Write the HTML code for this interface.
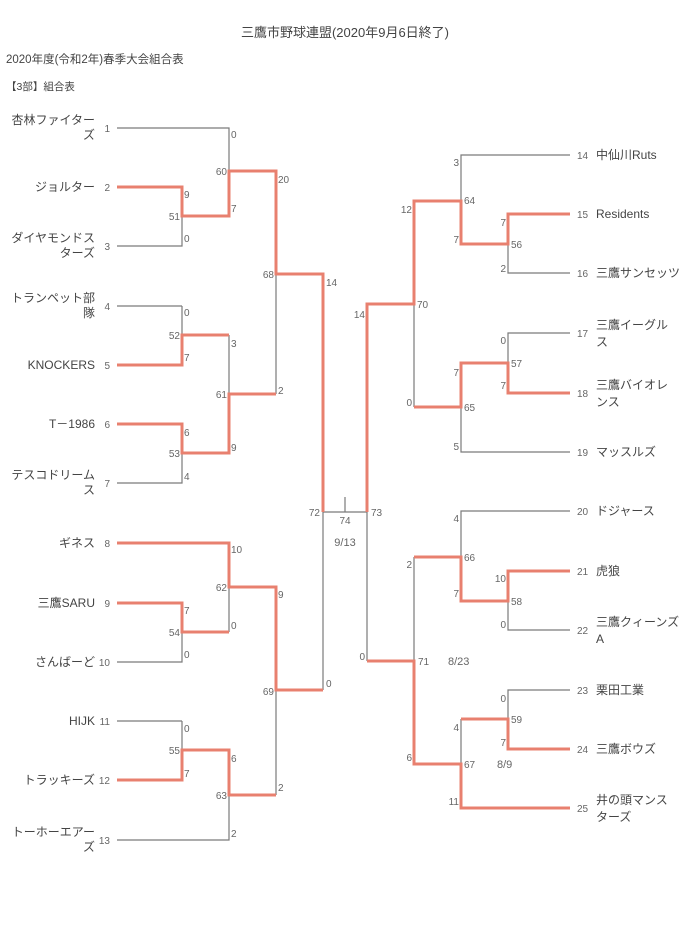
<!DOCTYPE html>
<html><head><meta charset="utf-8"><style>
html,body{margin:0;padding:0;background:#fff;}
svg{display:block;}
.t{font-family:"Liberation Sans","Noto Sans CJK JP",sans-serif;}
.n{font-size:12px;fill:#444;}
.s{font-size:10px;fill:#666;}
.g{fill:none;stroke:#7a7a7a;stroke-width:1.2;}
.r{fill:none;stroke:#e8806f;stroke-width:3;}
</style></head><body>
<svg width="685" height="948" viewBox="0 0 685 948" xmlns="http://www.w3.org/2000/svg">
<text class="t" x="345" y="37" text-anchor="middle" font-size="13" fill="#444">三鷹市野球連盟(2020年9月6日終了)</text>
<text class="t" x="6" y="63" font-size="11.5" fill="#444">2020年度(令和2年)春季大会組合表</text>
<text class="t" x="6" y="90" font-size="10.5" fill="#444">【3部】組合表</text>

<!-- grey lines left -->
<path class="g" d="M117 128H229V171 M182 216V246H117 M229 216V171 M276 274V394 M182 306H117 M182 306V335 M229 335V394 M182 454V483H117 M323 512V690 M323 512H367 M345 497V512
M229 587V632 M182 632V662H117 M182 721H117V721 M182 721V750 M276 690V795 M229 795V840H117"/>
<!-- red lines left -->
<path class="r" d="M117 187H182V216H229V171H276V274H323V512"/>
<path class="r" d="M117 365H182V335H229"/>
<path class="r" d="M117 424H182V453H229V394H276"/>
<path class="r" d="M117 543H229V587H276V690H323"/>
<path class="r" d="M117 603H182V632H229"/>
<path class="r" d="M117 780H182V750H229V795H276"/>

<!-- grey lines right -->
<path class="g" d="M570 155H461V201 M508 244V273H570 M414 304V407 M570 333H508V363 M461 407V452H570 M367 512V661
M570 511H461V557 M414 557V661 M508 601V630H570 M570 690H508V719 M461 719V764"/>
<!-- red lines right -->
<path class="r" d="M570 214H508V244H461V201H414V304H367V512"/>
<path class="r" d="M570 393H508V363H461V407H414"/>
<path class="r" d="M570 571H508V601H461V557H414"/>
<path class="r" d="M367 661H414V764H461V808H570"/>
<path class="r" d="M570 749H508V719H461"/>

<g class="t n">
<!-- left names -->
<g text-anchor="end">
<text x="95" y="124">杏林ファイター</text><text x="95" y="139">ズ</text>
<text x="95" y="191">ジョルター</text>
<text x="95" y="242">ダイヤモンドス</text><text x="95" y="257">ターズ</text>
<text x="95" y="302">トランペット部</text><text x="95" y="317">隊</text>
<text x="95" y="369">KNOCKERS</text>
<text x="95" y="428">T－1986</text>
<text x="95" y="479">テスコドリーム</text><text x="95" y="494">ス</text>
<text x="95" y="547">ギネス</text>
<text x="95" y="607">三鷹SARU</text>
<text x="95" y="666">さんばーど</text>
<text x="95" y="725">HIJK</text>
<text x="95" y="784">トラッキーズ</text>
<text x="95" y="836">トーホーエアー</text><text x="95" y="851">ズ</text>
</g>
<!-- right names -->
<text x="596" y="159">中仙川Ruts</text>
<text x="596" y="218">Residents</text>
<text x="596" y="277">三鷹サンセッツ</text>
<text x="596" y="329">三鷹イーグル</text><text x="596" y="346">ス</text>
<text x="596" y="389">三鷹バイオレ</text><text x="596" y="406">ンス</text>
<text x="596" y="456">マッスルズ</text>
<text x="596" y="515">ドジャース</text>
<text x="596" y="575">虎狼</text>
<text x="596" y="626">三鷹クィーンズ</text><text x="596" y="643">A</text>
<text x="596" y="694">栗田工業</text>
<text x="596" y="753">三鷹ボウズ</text>
<text x="596" y="804">井の頭マンス</text><text x="596" y="821">ターズ</text>
</g>

<g class="t s">
<!-- left team numbers -->
<g text-anchor="end">
<text x="110" y="132">1</text><text x="110" y="191">2</text><text x="110" y="250">3</text><text x="110" y="310">4</text><text x="110" y="369">5</text><text x="110" y="428">6</text><text x="110" y="487">7</text><text x="110" y="547">8</text><text x="110" y="607">9</text><text x="110" y="666">10</text><text x="110" y="725">11</text><text x="110" y="784">12</text><text x="110" y="844">13</text>
</g>
<!-- right team numbers -->
<text x="577" y="159">14</text><text x="577" y="218">15</text><text x="577" y="277">16</text><text x="577" y="337">17</text><text x="577" y="397">18</text><text x="577" y="456">19</text><text x="577" y="515">20</text><text x="577" y="575">21</text><text x="577" y="634">22</text><text x="577" y="694">23</text><text x="577" y="753">24</text><text x="577" y="812">25</text>

<!-- left scores -->
<text x="231" y="138">0</text><text x="227" y="175" text-anchor="end">60</text>
<text x="184" y="198">9</text><text x="180" y="220" text-anchor="end">51</text><text x="184" y="242">0</text>
<text x="231" y="212">7</text><text x="278" y="183">20</text><text x="274" y="278" text-anchor="end">68</text>
<text x="278" y="394">2</text><text x="326" y="286">14</text>
<text x="184" y="316">0</text><text x="180" y="339" text-anchor="end">52</text><text x="184" y="361">7</text>
<text x="231" y="347">3</text><text x="227" y="398" text-anchor="end">61</text>
<text x="184" y="436">6</text><text x="180" y="457" text-anchor="end">53</text><text x="184" y="480">4</text>
<text x="231" y="451">9</text>
<text x="231" y="553">10</text><text x="227" y="591" text-anchor="end">62</text>
<text x="184" y="614">7</text><text x="180" y="636" text-anchor="end">54</text><text x="184" y="658">0</text>
<text x="231" y="629">0</text><text x="278" y="598">9</text><text x="274" y="695" text-anchor="end">69</text>
<text x="326" y="687">0</text>
<text x="184" y="732">0</text><text x="180" y="754" text-anchor="end">55</text><text x="184" y="777">7</text>
<text x="231" y="762">6</text><text x="227" y="799" text-anchor="end">63</text><text x="278" y="791">2</text>
<text x="231" y="837">2</text>
<!-- center -->
<text x="320" y="516" text-anchor="end">72</text>
<text x="345" y="524" text-anchor="middle">74</text>
<text x="345" y="546" text-anchor="middle" font-size="11">9/13</text>
<text x="371" y="516">73</text>
<!-- right scores -->
<g text-anchor="end">
<text x="459" y="166">3</text><text x="412" y="213">12</text><text x="459" y="243">7</text>
<text x="506" y="226">7</text><text x="506" y="272">2</text><text x="365" y="318">14</text>
<text x="506" y="344">0</text><text x="506" y="389">7</text><text x="459" y="376">7</text>
<text x="412" y="406">0</text><text x="459" y="450">5</text>
<text x="459" y="522">4</text><text x="412" y="568">2</text><text x="506" y="582">10</text>
<text x="459" y="597">7</text><text x="506" y="628">0</text><text x="365" y="660">0</text>
<text x="506" y="702">0</text><text x="459" y="731">4</text><text x="506" y="746">7</text>
<text x="412" y="761">6</text><text x="459" y="805">11</text>
</g>
<text x="464" y="204">64</text><text x="511" y="248">56</text><text x="417" y="308">70</text>
<text x="511" y="367">57</text><text x="464" y="411">65</text>
<text x="464" y="561">66</text><text x="511" y="605">58</text>
<text x="418" y="665">71</text><text x="448" y="665" font-size="11">8/23</text>
<text x="511" y="723">59</text><text x="464" y="768">67</text><text x="497" y="768" font-size="11">8/9</text>
</g>
</svg>
</body></html>
